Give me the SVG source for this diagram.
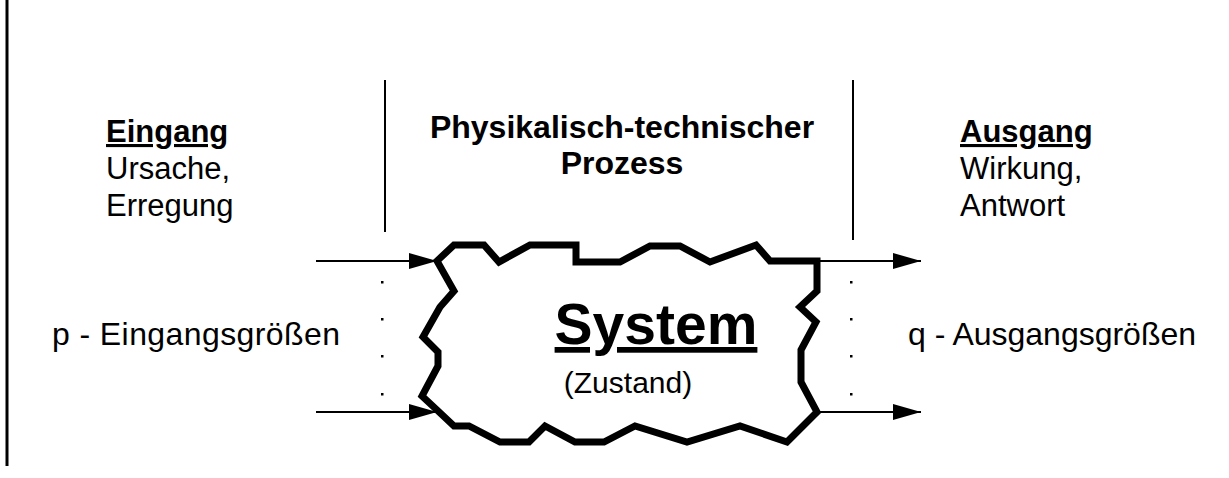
<svg xmlns="http://www.w3.org/2000/svg" width="1229" height="478" viewBox="0 0 1229 478">
<style>
text{font-family:"Liberation Sans",Arial,sans-serif;fill:#000}
.t{font-size:31px}
.b{font-size:31px;font-weight:bold}
.u{text-decoration:underline}
.line{stroke:#000;stroke-width:2;fill:none}
.conn{stroke:#000;stroke-width:2;fill:none;marker-end:url(#ah)}
.dot{fill:#000}
</style>
<defs>
<marker id="ah" markerWidth="28" markerHeight="16" refX="28" refY="8" markerUnits="userSpaceOnUse" orient="auto">
<path d="M0,0 L28,8 L0,16 Z" fill="#000"/>
</marker>
</defs>
<rect width="1229" height="478" fill="#fff"/>
<line x1="7" y1="0" x2="7" y2="466" stroke="#000" stroke-width="3"/>
<line class="line" x1="385" y1="80" x2="385" y2="232"/>
<line class="line" x1="853" y1="80" x2="853" y2="240"/>
<g id="eingang">
<text class="b u" x="106" y="142">Eingang</text>
<text class="t" x="106" y="179">Ursache,</text>
<text class="t" x="106" y="216">Erregung</text>
</g>
<g id="prozess">
<text class="b" x="622" y="138" text-anchor="middle" font-size="32" style="font-size:32px">Physikalisch-technischer</text>
<text class="b" x="622" y="174" text-anchor="middle" style="font-size:32px">Prozess</text>
</g>
<g id="ausgang">
<text class="b u" x="960" y="142">Ausgang</text>
<text class="t" x="960" y="179">Wirkung,</text>
<text class="t" x="960" y="216">Antwort</text>
</g>
<g id="eingangsgroessen">
<text class="t" x="52" y="345" style="font-size:32px" textLength="288" lengthAdjust="spacing">p - Eingangsgrößen</text>
</g>
<g id="ausgangsgroessen">
<text class="t" x="908" y="345" style="font-size:32px" textLength="288" lengthAdjust="spacing">q - Ausgangsgrößen</text>
</g>
<g id="system">
<path d="M437,261 L454,245 L484,245 L499,262 L530,245 L576,245 L576,262 L620,262 L650,246 L680,246 L710,262 L756,245 L770,261 L817,261 L817,291 L800,307 L816,322 L801,350 L801,382 L816,410 L817,412 L787,442 L740,426 L687,442 L635,426 L604,442 L575,442 L545,426 L529,442 L500,442 L469,426 L454,426 L437,410 L422,396 L438,366 L438,352 L423,337 L440,307 L454,291 Z" fill="#fff" stroke="#000" stroke-width="7" stroke-linejoin="miter"/>
<text x="656" y="344" text-anchor="middle" font-size="57" font-weight="bold" class="u">System</text>
<text x="628" y="393" text-anchor="middle" font-size="30">(Zustand)</text>
</g>
<g id="connectors">
<line class="conn" x1="316" y1="261" x2="437" y2="261"/>
<line class="conn" x1="316" y1="412" x2="437" y2="412"/>
<line class="conn" x1="818" y1="261" x2="921" y2="261"/>
<line class="conn" x1="818" y1="412" x2="921" y2="412"/>
<rect class="dot" x="381" y="281" width="2.5" height="2.5"/>
<rect class="dot" x="381" y="318" width="2.5" height="2.5"/>
<rect class="dot" x="381" y="355" width="2.5" height="2.5"/>
<rect class="dot" x="381" y="393" width="2.5" height="2.5"/>
<rect class="dot" x="850" y="281" width="2.5" height="2.5"/>
<rect class="dot" x="850" y="318" width="2.5" height="2.5"/>
<rect class="dot" x="850" y="355" width="2.5" height="2.5"/>
<rect class="dot" x="850" y="393" width="2.5" height="2.5"/>
</g>
</svg>
